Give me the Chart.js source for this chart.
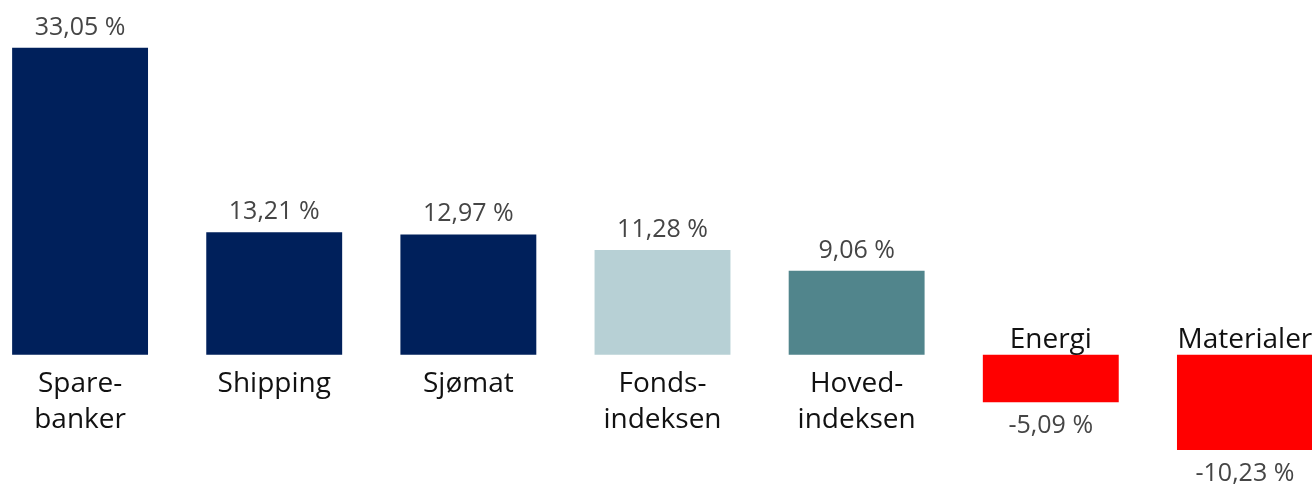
<!DOCTYPE html>
<html>
<head>
<meta charset="utf-8">
<script src="https://cdn.jsdelivr.net/npm/chart.js@4/dist/chart.umd.min.js"></script>
<style>
  html, body { margin: 0; padding: 0; background: #fff; overflow: hidden; }
  body { width: 1312px; height: 484px; position: relative; }
  #wrap { position: absolute; left: -17px; top: 0; width: 1359px; height: 484px; }
</style>
</head>
<body>
<div id="wrap"><canvas id="chart"></canvas></div>
<script>
// sector returns, shown in percent
const categories = [
  ['Spare-', 'banker'],
  ['Shipping'],
  ['Sjømat'],
  ['Fonds-', 'indeksen'],
  ['Hoved-', 'indeksen'],
  ['Energi'],
  ['Materialer'],
];
const returns = [33.05, 13.21, 12.97, 11.28, 9.06, -5.09, -10.23];
const barColors = ['#00205b', '#00205b', '#00205b', '#b7d0d5', '#51858c', '#ff0000', '#ff0000'];

const fmt = v => v.toFixed(2).replace('.', ',') + ' %';

// value + category text around each bar
const barLabels = {
  id: 'barLabels',
  afterDatasetsDraw(chart) {
    const ctx = chart.ctx;
    const meta = chart.getDatasetMeta(0);
    ctx.save();
    ctx.textAlign = 'center';
    ctx.textBaseline = 'alphabetic';
    meta.data.forEach((bar, i) => {
      const v = returns[i];
      const lines = categories[i];
      const x = bar.x;
      if (v >= 0) {
        ctx.font = '25px "Open Sans"';
        ctx.fillStyle = '#454545';
        ctx.fillText(fmt(v), x, bar.y - 13);
        ctx.font = '28px "Open Sans"';
        ctx.fillStyle = '#111';
        lines.forEach((l, k) => ctx.fillText(l, x, bar.base + 37 + k * 36));
      } else {
        ctx.font = '28px "Open Sans"';
        ctx.fillStyle = '#111';
        ctx.fillText(lines[0], x, bar.base - 7);
        ctx.font = '25px "Open Sans"';
        ctx.fillStyle = '#454545';
        ctx.fillText(fmt(v), x, bar.y + 31);
      }
    });
    ctx.restore();
  }
};

new Chart(document.getElementById('chart'), {
  type: 'bar',
  data: {
    labels: categories,
    datasets: [{
      data: returns,
      backgroundColor: barColors,
      borderWidth: 0,
      barPercentage: 0.70,
      categoryPercentage: 1.0,
    }],
  },
  options: {
    responsive: true,
    maintainAspectRatio: false,
    animation: false,
    layout: { padding: 0 },
    plugins: {
      legend: { display: false },
      tooltip: { enabled: false },
    },
    scales: {
      x: { display: false },
      y: { display: false, min: -13.9, max: 38.2 },
    },
  },
  plugins: [barLabels],
});
</script>
</body>
</html>
